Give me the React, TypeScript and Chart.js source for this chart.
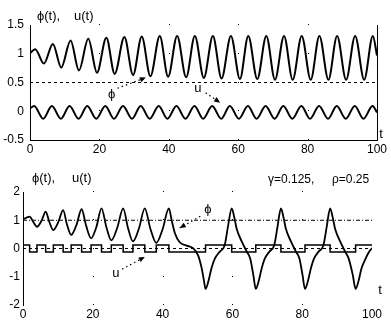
import React, { useEffect, useRef } from 'react';
import { Chart, registerables } from 'chart.js';

Chart.register(...registerables);

const FONT = "'Liberation Sans', Arial, 'DejaVu Sans', sans-serif";

// ---------- top panel data ----------
const topPhiT = [0, 1.5, 4.0, 6.6, 9.0, 11.7, 14.1, 16.8, 19.3, 22.0, 24.4, 27.2, 29.7, 32.2, 34.7, 37.4, 39.8, 42.4, 45.0, 47.5, 50.1, 52.7, 55.2, 57.9, 60.5, 62.9, 65.5, 68.1, 70.6, 73.2, 75.7, 78.3, 80.9, 83.4, 86.0, 88.5, 91.1, 93.7, 96.3, 98.8, 100];
const topPhiV = [1.01, 1.08, 0.83, 1.17, 0.76, 1.23, 0.71, 1.26, 0.67, 1.28, 0.65, 1.29, 0.63, 1.30, 0.61, 1.31, 0.60, 1.31, 0.59, 1.31, 0.58, 1.31, 0.57, 1.31, 0.56, 1.31, 0.56, 1.31, 0.55, 1.31, 0.55, 1.31, 0.55, 1.31, 0.55, 1.31, 0.55, 1.31, 0.55, 1.31, 0.97];
const topUT = [0, 1.2, 3.8, 6.3, 8.9, 11.4, 14.0, 16.5, 19.1, 21.7, 24.2, 26.8, 29.4, 31.9, 34.5, 37.1, 39.6, 42.2, 44.8, 47.4, 49.9, 52.5, 55.1, 57.6, 60.2, 62.8, 65.3, 67.9, 70.5, 73.0, 75.6, 78.2, 80.7, 83.3, 85.9, 88.4, 91.0, 93.6, 96.1, 98.7, 100];
const topUV = [0.05, 0.09, -0.13, 0.09, -0.13, 0.09, -0.13, 0.09, -0.13, 0.09, -0.13, 0.09, -0.13, 0.09, -0.13, 0.09, -0.13, 0.09, -0.13, 0.09, -0.13, 0.09, -0.13, 0.09, -0.13, 0.09, -0.13, 0.09, -0.13, 0.09, -0.13, 0.09, -0.13, 0.09, -0.13, 0.09, -0.13, 0.09, -0.13, 0.09, -0.02];
const topRefLevel = [0.5, 0.5];
const refSpanT = [0, 100];
const topYTicks = [-0.5, 0, 0.5, 1, 1.5];

// ---------- bottom panel data ----------
const botPhiT = [0, 1.9, 3.0, 4.0, 5.3, 6.5, 7.6, 8.7, 10.1, 11.5, 12.6, 13.8, 15.3, 16.8, 18.1, 19.5, 21.0, 22.5, 23.9, 25.3, 27.0, 28.7, 30.1, 31.5, 33.2, 34.9, 36.5, 38.2, 40.0, 41.8, 42.6, 43.5, 44.9, 46.9, 48.8, 50.2, 51.2, 51.8, 52.3, 53.1, 54.0, 55.0, 56.4, 57.8, 58.8, 59.8, 60.6, 61.2, 62.7, 64.1, 65.1, 66.0, 66.7, 67.5, 68.4, 69.3, 70.6, 72.0, 73.0, 73.9, 74.7, 75.3, 76.8, 78.2, 79.2, 80.1, 80.8, 81.6, 82.5, 83.4, 84.7, 86.1, 87.1, 88.0, 88.8, 89.4, 90.9, 92.3, 93.3, 94.5, 95.3, 96.1, 97.0, 98.0, 99.0, 100];
const botPhiV = [1.03, 1.13, 0.93, 0.77, 0.98, 1.30, 0.92, 0.65, 0.93, 1.36, 0.85, 0.48, 0.83, 1.39, 0.80, 0.36, 0.75, 1.42, 0.75, 0.29, 0.73, 1.42, 0.72, 0.25, 0.70, 1.42, 0.70, 0.20, 0.68, 1.42, 1.0, 0.55, 0.22, 0.10, 0.0, -0.25, -0.70, -1.10, -1.43, -1.17, -0.70, -0.35, -0.11, 0.12, 0.83, 1.42, 1.07, 0.71, 0.24, -0.11, -0.35, -0.94, -1.43, -1.17, -0.70, -0.35, -0.11, 0.12, 0.83, 1.42, 1.07, 0.71, 0.24, -0.11, -0.35, -0.94, -1.43, -1.17, -0.70, -0.35, -0.11, 0.12, 0.83, 1.42, 1.07, 0.71, 0.24, -0.11, -0.35, -0.94, -1.43, -1.17, -0.70, -0.40, -0.15, 0.02];
const botUT = [0, 1.9, 4.0, 6.5, 8.7, 11.5, 13.8, 16.8, 19.5, 22.5, 25.3, 28.7, 31.5, 34.9, 38.2, 41.8, 52.3, 59.8, 66.7, 73.9, 80.8, 88.0, 95.3, 100];
const botUV = [0.12, -0.12, 0.12, -0.12, 0.12, -0.12, 0.12, -0.12, 0.12, -0.12, 0.12, -0.12, 0.12, -0.12, 0.12, -0.12, 0.12, -0.12, 0.12, -0.12, 0.12, -0.12, 0.12, 0.12];
const botRefOne = [1, 1];
const botRefZero = [0, 0];
const botYTicks = [-2, -1, 0, 1, 2];

const gridT = [20, 40, 60, 80];

// annotation arrows (data coordinates)
type Arrow = { text: string; tx: number; ty: number; x0: number; y0: number; x1: number; y1: number };
const topArrows: Arrow[] = [
  { text: 'ϕ', tx: 23.5, ty: 0.30, x0: 25.2, y0: 0.40, x1: 33.4, y1: 0.585 },
  { text: 'u', tx: 48.4, ty: 0.39, x0: 50.6, y0: 0.32, x1: 54.8, y1: 0.15 },
];
const botArrows: Arrow[] = [
  { text: 'u', tx: 26.6, ty: -0.87, x0: 28.4, y0: -0.73, x1: 34.9, y1: -0.30 },
  { text: 'ϕ', tx: 53.0, ty: 1.40, x0: 50.8, y0: 1.14, x1: 44.9, y1: 0.73 },
];

type Txt = { text: string; x: number; y: number; size: number; align?: CanvasTextAlign };

const toXY = (xs: number[], ys: number[]) => xs.map((x, i) => ({ x, y: ys[i] }));

function makeOverlay(o: { gridY: number[]; arrows: Arrow[]; texts: Txt[]; rightBorder: boolean }) {
  return {
    id: 'overlay',
    beforeDatasetsDraw(chart: any) {
      const { ctx } = chart;
      const xs = chart.scales.x;
      const ys = chart.scales.y;
      ctx.save();
      ctx.fillStyle = '#000';
      for (const gx of gridT) {
        for (const gy of o.gridY) {
          const px = Math.round(xs.getPixelForValue(gx));
          const py = Math.round(ys.getPixelForValue(gy));
          ctx.fillRect(px, py - 1, 1, 1);
        }
      }
      ctx.restore();
    },
    afterDatasetsDraw(chart: any) {
      const { ctx, chartArea } = chart;
      const xs = chart.scales.x;
      const ys = chart.scales.y;
      ctx.save();
      ctx.strokeStyle = '#000';
      ctx.fillStyle = '#000';
      if (o.rightBorder) {
        const rx = Math.round(chartArea.right) + 0.5;
        ctx.lineWidth = 1;
        ctx.beginPath();
        ctx.moveTo(rx, chartArea.top);
        ctx.lineTo(rx, chartArea.bottom);
        ctx.stroke();
      }
      for (const a of o.arrows) {
        const p0x = xs.getPixelForValue(a.x0);
        const p0y = ys.getPixelForValue(a.y0);
        const p1x = xs.getPixelForValue(a.x1);
        const p1y = ys.getPixelForValue(a.y1);
        ctx.lineWidth = 1.2;
        ctx.setLineDash([1.5, 3]);
        ctx.beginPath();
        ctx.moveTo(p0x, p0y);
        ctx.lineTo(p1x, p1y);
        ctx.stroke();
        ctx.setLineDash([]);
        const ang = Math.atan2(p1y - p0y, p1x - p0x);
        const L = 6;
        const W = 2.6;
        const c = Math.cos(ang);
        const s = Math.sin(ang);
        ctx.beginPath();
        ctx.moveTo(p1x, p1y);
        ctx.lineTo(p1x - L * c + W * s, p1y - L * s - W * c);
        ctx.lineTo(p1x - L * c - W * s, p1y - L * s + W * c);
        ctx.closePath();
        ctx.fill();
        ctx.font = `13px ${FONT}`;
        ctx.textAlign = 'center';
        ctx.textBaseline = 'middle';
        ctx.fillText(a.text, xs.getPixelForValue(a.tx), ys.getPixelForValue(a.ty));
      }
      ctx.restore();
    },
    afterDraw(chart: any) {
      const { ctx } = chart;
      ctx.save();
      ctx.fillStyle = '#000';
      ctx.textBaseline = 'middle';
      for (const t of o.texts) {
        ctx.font = `${t.size}px ${FONT}`;
        ctx.textAlign = t.align || 'left';
        ctx.fillText(t.text, t.x, t.y);
      }
      ctx.restore();
    },
  };
}

function makeConfig(p: {
  datasets: any[];
  yMin: number;
  yMax: number;
  yStep: number;
  padRight: number;
  padTop: number;
  yWidth: number;
  xHeight: number;
  yPad: number;
  xBorder: boolean;
  overlay: any;
}) {
  const tickFont = { family: FONT, size: 12 };
  const fmt = (v: any) => String(Math.round(Number(v) * 100) / 100);
  return {
    type: 'line',
    data: { datasets: p.datasets },
    options: {
      responsive: false,
      animation: false,
      devicePixelRatio: 1,
      events: [],
      layout: { padding: { left: 0, right: p.padRight, top: p.padTop, bottom: 0 } },
      plugins: { legend: { display: false }, tooltip: { enabled: false }, title: { display: false } },
      scales: {
        x: {
          type: 'linear',
          min: 0,
          max: 100,
          ticks: { stepSize: 20, padding: 2, color: '#000', font: tickFont, maxRotation: 0, autoSkip: false, callback: fmt },
          grid: { display: false, drawTicks: false },
          border: { display: p.xBorder, color: '#000', width: 1 },
          afterFit: (s: any) => {
            s.height = p.xHeight;
          },
        },
        y: {
          type: 'linear',
          min: p.yMin,
          max: p.yMax,
          ticks: { stepSize: p.yStep, padding: p.yPad, color: '#000', font: tickFont, autoSkip: false, callback: fmt },
          grid: { display: false, drawTicks: false },
          border: { display: true, color: '#000', width: 1 },
          afterFit: (s: any) => {
            s.width = p.yWidth;
          },
        },
      },
    },
    plugins: [p.overlay],
  };
}

const curve = (xs: number[], ys: number[], width: number) => ({
  data: toXY(xs, ys),
  borderColor: '#000',
  borderWidth: width,
  pointRadius: 0,
  fill: false,
  cubicInterpolationMode: 'monotone',
});

const refLine = (ys: number[], dash: number[]) => ({
  data: toXY(refSpanT, ys),
  borderColor: '#000',
  borderWidth: 1,
  borderDash: dash,
  pointRadius: 0,
  fill: false,
  tension: 0,
});

export default function App() {
  const topRef = useRef<HTMLCanvasElement>(null);
  const botRef = useRef<HTMLCanvasElement>(null);

  useEffect(() => {
    const top = new Chart(
      topRef.current as HTMLCanvasElement,
      makeConfig({
        datasets: [refLine(topRefLevel, [3, 3]), curve(topUT, topUV, 2), curve(topPhiT, topPhiV, 2)],
        yMin: -0.5,
        yMax: 1.5,
        yStep: 0.5,
        padRight: 14,
        padTop: 25,
        yWidth: 30,
        xHeight: 20,
        yPad: 6,
        xBorder: true,
        overlay: makeOverlay({
          gridY: topYTicks,
          arrows: topArrows,
          rightBorder: true,
          texts: [
            { text: 'ϕ(t),', x: 37, y: 16, size: 13 },
            { text: 'u(t)', x: 74, y: 16, size: 13 },
            { text: 't', x: 381, y: 134, size: 13, align: 'center' },
          ],
        }),
      }) as any
    );
    const bot = new Chart(
      botRef.current as HTMLCanvasElement,
      makeConfig({
        datasets: [
          refLine(botRefOne, [4, 2, 1, 2]),
          refLine(botRefZero, [3, 3]),
          { ...curve(botUT, botUV, 1.5), cubicInterpolationMode: 'default', tension: 0, stepped: 'before' },
          curve(botPhiT, botPhiV, 1.8),
        ],
        yMin: -2,
        yMax: 2,
        yStep: 1,
        padRight: 19,
        padTop: 32,
        yWidth: 23,
        xHeight: 23,
        yPad: 3,
        xBorder: false,
        overlay: makeOverlay({
          gridY: botYTicks,
          arrows: botArrows,
          rightBorder: false,
          texts: [
            { text: 'ϕ(t),', x: 32, y: 18, size: 13 },
            { text: 'u(t)', x: 72, y: 18, size: 13 },
            { text: 'γ=0.125,', x: 268, y: 20, size: 12 },
            { text: 'ρ=0.25', x: 332, y: 20, size: 12 },
            { text: 't', x: 380, y: 130, size: 13, align: 'center' },
          ],
        }),
      }) as any
    );
    return () => {
      top.destroy();
      bot.destroy();
    };
  }, []);

  return (
    <div style={{ position: 'absolute', left: 0, top: 0, width: 391, height: 328, background: '#fff' }}>
      <canvas ref={topRef} width={391} height={160} style={{ position: 'absolute', left: 0, top: 0, display: 'block' }} />
      <canvas ref={botRef} width={391} height={168} style={{ position: 'absolute', left: 0, top: 160, display: 'block' }} />
    </div>
  );
}
